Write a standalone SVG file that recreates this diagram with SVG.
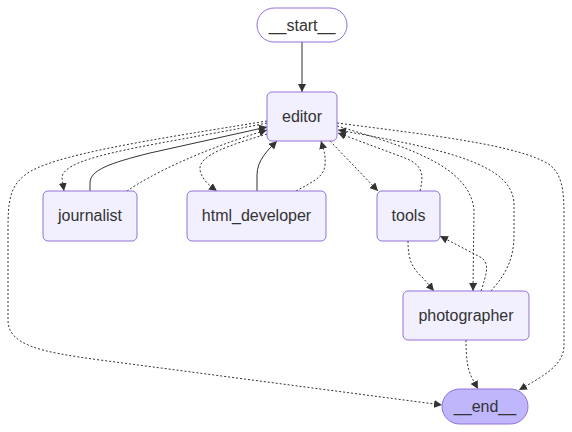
<svg xmlns="http://www.w3.org/2000/svg" width="572" height="432" viewBox="0 0 572 432">
<style>
.node rect{fill:#f2f0ff;stroke:#9370DB;stroke-width:1}
.first rect{fill:#ffffff}
.last rect{fill:#bfb6fc}
.node text{font-family:"Liberation Sans",Arial,sans-serif;font-size:16px;fill:#333;text-anchor:middle}
.e{fill:none;stroke:#333;stroke-width:1}
.d{stroke-dasharray:2}
</style>
<defs>
<marker id="arr" viewBox="0 0 10 10" refX="10" refY="5" markerUnits="userSpaceOnUse" markerWidth="8" markerHeight="8" orient="auto">
<path d="M0,0 L10,5 L0,10 z" fill="#333"/>
</marker>
</defs>
<rect width="572" height="432" fill="#ffffff"/>
<g id="edges">
<path class="e" d="M302,42 L302,92" marker-end="url(#arr)"/>
<path class="e d" d="M267,121 C150,140 50,155 25,175 C10,187 8,200 8,230 L8,320 C8,345 40,352 100,360 L442,405" marker-end="url(#arr)"/>
<path class="e d" d="M267,123 C160,145 62,155 62,178 L64,191" marker-end="url(#arr)"/>
<path class="e" d="M90,191 L90,183 C90,170 110,163 150,153 L267,127" marker-end="url(#arr)"/>
<path class="e d" d="M127,191 C150,175 200,150 267,130" marker-end="url(#arr)"/>
<path class="e d" d="M267,134 C230,145 198,155 200,170 C202,180 210,186 217,191" marker-end="url(#arr)"/>
<path class="e" d="M257,191 L257,175 C257,160 268,150 277,141" marker-end="url(#arr)"/>
<path class="e d" d="M296,191 C310,183 324,178 325,165 C326,155 323,148 321,141" marker-end="url(#arr)"/>
<path class="e d" d="M330,141 L378,191" marker-end="url(#arr)"/>
<path class="e d" d="M420,191 C424,175 423,165 405,158 L338,133" marker-end="url(#arr)"/>
<path class="e d" d="M337,126 C420,150 470,170 474,210 L473,291" marker-end="url(#arr)"/>
<path class="e d" d="M481,291 C486,275 490,265 482,258 L440,236" marker-end="url(#arr)"/>
<path class="e d" d="M491,291 C505,275 514,260 514,235 L514,205 C514,165 450,150 338,130" marker-end="url(#arr)"/>
<path class="e d" d="M337,123 C430,135 520,145 550,165 C562,175 564,190 564,215 L564,345 C564,365 545,375 519,390" marker-end="url(#arr)"/>
<path class="e d" d="M408,241 C408,260 412,268 423,278 L434,291" marker-end="url(#arr)"/>
<path class="e d" d="M466,340 C466,360 468,370 472,378 L478,389" marker-end="url(#arr)"/>
</g>
<g id="start" class="node first"><rect x="257" y="8" width="90" height="34" rx="17"/><text x="302" y="31">__start__</text></g>
<g id="editor" class="node"><rect x="267" y="92" width="70" height="49" rx="5"/><text x="302" y="122">editor</text></g>
<g id="journalist" class="node"><rect x="43" y="191" width="94" height="50" rx="5"/><text x="90" y="221">journalist</text></g>
<g id="html_developer" class="node"><rect x="187" y="191" width="139" height="50" rx="5"/><text x="256.5" y="221">html_developer</text></g>
<g id="tools" class="node"><rect x="377" y="191" width="63" height="50" rx="5"/><text x="408.5" y="221">tools</text></g>
<g id="photographer" class="node"><rect x="403" y="291" width="126" height="49" rx="5"/><text x="466" y="321">photographer</text></g>
<g id="end" class="node last"><rect x="442" y="389" width="86" height="35" rx="17.5"/><text x="485" y="412">__end__</text></g>
</svg>
